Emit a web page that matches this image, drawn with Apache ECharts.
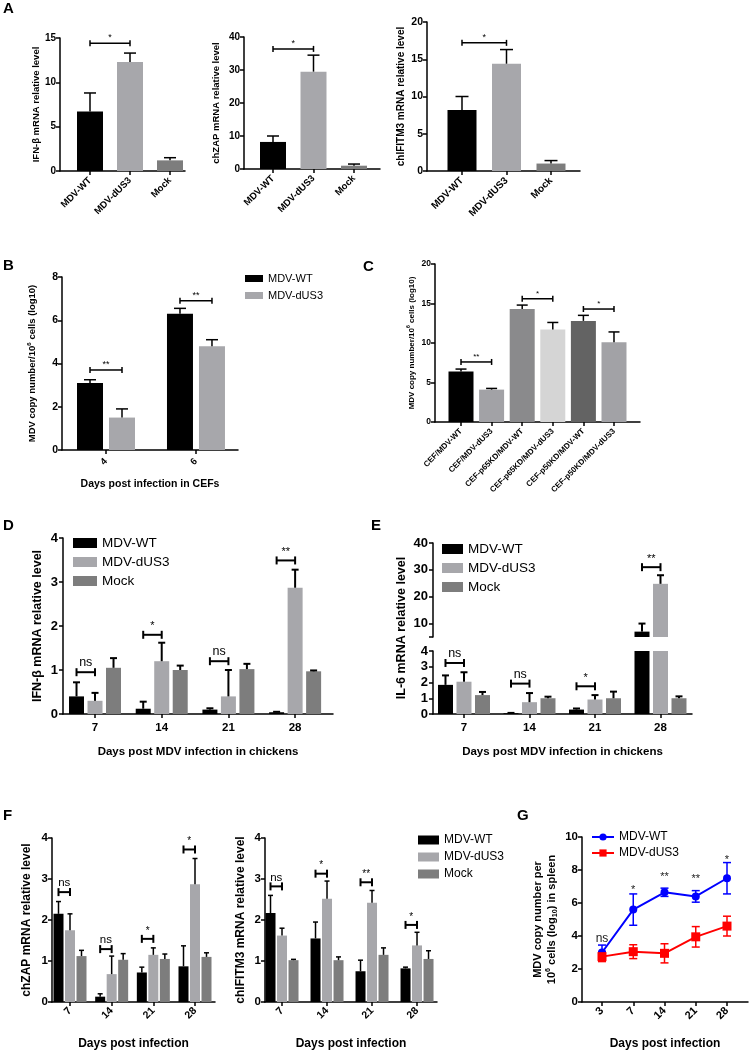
<!DOCTYPE html>
<html>
<head>
<meta charset="utf-8">
<script src="https://cdn.jsdelivr.net/npm/echarts@6/dist/echarts.min.js"></script>
<style>
html, body { margin: 0; padding: 0; background: #fff; }
#page { position: relative; width: 749px; height: 1051px; }
#page > div { position: absolute; left: 0; top: 0; width: 749px; height: 1051px; }
</style>
</head>
<body>
<div id="page"></div>
<script>
// ---------- data ----------
// A: single time point, three groups
const aCats = ['MDV-WT', 'MDV-dUS3', 'Mock'];
const aIfnMean = [6.7, 12.3, 1.2];
const aIfnErr = [2.1, 1.0, 0.3];
const aZapMean = [8.2, 29.5, 1.0];
const aZapErr = [1.8, 5.0, 0.5];
const aIfitmMean = [8.2, 14.4, 1.0];
const aIfitmErr = [1.8, 1.9, 0.4];
const aIfnSig = [[1, 2, 14.4, '*']];
const aZapSig = [[1, 2, 36.4, '*']];
const aIfitmSig = [[1, 2, 17.2, '*']];

// B: CEFs, days 4 and 6
const bDays = ['4', '6'];
const bWtMean = [3.1, 6.3];
const bWtErr = [0.15, 0.25];
const bDusMean = [1.5, 4.8];
const bDusErr = [0.4, 0.3];
const bSig = [[1, 3.7, '**'], [2, 6.9, '**']];

// C: knock-down cells
const cCats = ['CEF/MDV-WT', 'CEF/MDV-dUS3', 'CEF-p65KD/MDV-WT', 'CEF-p65KD/MDV-dUS3', 'CEF-p50KD/MDV-WT', 'CEF-p50KD/MDV-dUS3'];
const cMean = [6.4, 4.1, 14.3, 11.7, 12.8, 10.1];
const cErr = [0.3, 0.15, 0.5, 0.9, 0.7, 1.3];
const cSig = [[1, 2, 7.6, '**'], [3, 4, 15.6, '*'], [5, 6, 14.3, '*']];

// D: IFN-beta in chickens
const days = ['7', '14', '21', '28'];
const dWtMean = [0.4, 0.12, 0.1, 0.04];
const dWtErr = [0.32, 0.16, 0.03, 0.01];
const dDusMean = [0.3, 1.2, 0.4, 2.87];
const dDusErr = [0.18, 0.42, 0.6, 0.41];
const dMockMean = [1.05, 1.0, 1.02, 0.97];
const dMockErr = [0.22, 0.1, 0.12, 0.02];
const dSig = [[1, 0.95, 'ns'], [2, 1.8, '*'], [3, 1.2, 'ns'], [4, 3.49, '**']];

// E: IL-6 in chickens (broken axis)
const eWtMean = [1.85, 0.05, 0.28, 7.0];
const eWtErr = [0.6, 0.02, 0.07, 3.0];
const eDusMean = [2.05, 0.75, 0.92, 24.8];
const eDusErr = [0.6, 0.58, 0.28, 3.2];
const eMockMean = [1.2, 1.0, 1.0, 1.0];
const eMockErr = [0.2, 0.1, 0.42, 0.12];
const eSigLow = [[1, 3.24, 'ns'], [2, 1.93, 'ns'], [3, 1.76, '*']];
const eSigHigh = [[4, 31, '**']];

// F: chZAP and chIFITM3
const fZapWt = [2.15, 0.13, 0.72, 0.87];
const fZapWtErr = [0.3, 0.07, 0.13, 0.5];
const fZapDus = [1.75, 0.68, 1.15, 2.87];
const fZapDusErr = [0.4, 0.44, 0.17, 0.63];
const fZapMock = [1.12, 1.03, 1.05, 1.1];
const fZapMockErr = [0.14, 0.15, 0.12, 0.1];
const fZapSig = [[1, 2.68, 'ns'], [2, 1.29, 'ns'], [3, 1.54, '*'], [4, 3.72, '*']];
const fIfWt = [2.17, 1.55, 0.75, 0.82];
const fIfWtErr = [0.43, 0.4, 0.27, 0.03];
const fIfDus = [1.62, 2.52, 2.42, 1.38];
const fIfDusErr = [0.18, 0.43, 0.3, 0.32];
const fIfMock = [1.02, 1.02, 1.15, 1.05];
const fIfMockErr = [0.02, 0.08, 0.17, 0.2];
const fIfSig = [[1, 2.82, 'ns'], [2, 3.13, '*'], [3, 2.92, '**'], [4, 1.88, '*']];

// G: spleen copy number
const gDays = ['3', '7', '14', '21', '28'];
const gWt = [3.0, 5.6, 6.65, 6.4, 7.5];
const gWtErr = [0.45, 0.95, 0.25, 0.35, 0.95];
const gDus = [2.75, 3.05, 2.95, 3.95, 4.6];
const gDusErr = [0.3, 0.42, 0.58, 0.62, 0.6];
const gSigText = ['ns', '*', '**', '**', '*'];
const gSigY = [3.5, 6.45, 7.25, 7.15, 8.3];

// ---------- helpers ----------
const FONT = '"Liberation Sans", Arial, Helvetica, sans-serif';
const LW = 1.5;
const WT = '#000000', DUS = '#a7a7ab', MOCK = '#7d7d7d';
const page = document.getElementById('page');

function render(opt) {
  const d = document.createElement('div');
  page.appendChild(d);
  const c = echarts.init(d, null, { renderer: 'canvas' });
  c.setOption(Object.assign({ animation: false }, opt));
}

function letter(t, x, y) {
  return { type: 'text', left: x, top: y, style: { text: t, fill: '#000', font: 'bold 15px ' + FONT } };
}

function idx(arr) { return arr.map((v, i) => i + 1); }

function xAx(gi, cats, min, max, o) {
  const vals = idx(cats);
  return {
    type: 'value', gridIndex: gi, min: min, max: max, show: o.show !== false,
    axisLine: { show: true, onZero: false, lineStyle: { color: '#000', width: LW } },
    axisTick: { show: true, length: 4, customValues: vals, lineStyle: { color: '#000', width: LW } },
    axisLabel: {
      customValues: vals, formatter: v => cats[Math.round(v) - 1], rotate: o.rotate || 0,
      margin: o.margin || 6, color: '#000', fontSize: o.fs, fontWeight: 'bold', fontFamily: FONT
    },
    splitLine: { show: false },
    name: o.name || '', nameLocation: 'middle', nameGap: o.nameGap || 0,
    nameTextStyle: { color: '#000', fontSize: o.nameFs || 11, fontWeight: 'bold', fontFamily: FONT }
  };
}

function yAx(gi, min, max, interval, o) {
  const tick = { show: true, length: 4, lineStyle: { color: '#000', width: LW } };
  const lab = { margin: o.margin || 4, color: '#000', fontSize: o.fs, fontWeight: 'bold', fontFamily: FONT };
  if (o.ticks) tick.customValues = o.ticks;
  if (o.labels) lab.customValues = o.labels;
  const ax = {
    type: 'value', gridIndex: gi, min: min, max: max,
    axisLine: { show: true, onZero: false, lineStyle: { color: '#000', width: LW } },
    axisTick: tick, axisLabel: lab, splitLine: { show: false },
    name: o.name || '', nameLocation: 'middle', nameGap: o.nameGap || 0, nameRotate: 90,
    nameTextStyle: {
      color: '#000', fontSize: o.nameFs || 11, fontWeight: 'bold', fontFamily: FONT,
      lineHeight: o.nameLh, rich: o.rich
    }
  };
  if (interval) ax.interval = interval;
  return ax;
}

function supRich(fs) {
  return {
    n: { fontSize: fs, fontWeight: 'bold', fontFamily: FONT, color: '#000', lineHeight: fs + 3 },
    s: { fontSize: fs * 0.65, fontWeight: 'bold', fontFamily: FONT, color: '#000', verticalAlign: 'top', lineHeight: fs + 3 },
    b: { fontSize: fs * 0.65, fontWeight: 'bold', fontFamily: FONT, color: '#000', verticalAlign: 'bottom', lineHeight: fs + 3 }
  };
}

// pixel offset of each bar inside a group
function offs(n, bw, gap) {
  return Array.from({ length: n }, (_, i) => (i - (n - 1) / 2) * (bw + gap));
}

function bars(name, gi, means, color, bw, gapPx) {
  return {
    type: 'bar', name: name, xAxisIndex: gi, yAxisIndex: gi, silent: true,
    data: means.map((v, i) => [i + 1, v]),
    barWidth: bw, barGap: (gapPx / bw * 100) + '%', itemStyle: { color: color }
  };
}

function colorBars(gi, means, colors, bw) {
  return {
    type: 'bar', xAxisIndex: gi, yAxisIndex: gi, silent: true, barWidth: bw,
    data: means.map((v, i) => ({ value: [i + 1, v], itemStyle: { color: colors[i] } }))
  };
}

function errs(gi, means, err, off, cap, lw, o) {
  o = o || {};
  const col = o.color || '#000';
  return {
    type: 'custom', xAxisIndex: gi, yAxisIndex: gi, silent: true, z: 3,
    data: means.map((m, i) => [i + 1, m, err[i]]),
    renderItem(params, api) {
      const x = api.value(0), m = api.value(1), e = api.value(2);
      if (o.range && (m < o.range[0] || m > o.range[1])) return null;
      const pm = api.coord([x, m]), pt = api.coord([x, m + e]), pb = api.coord([x, m - e]);
      const cx = pm[0] + off;
      const st = { stroke: col, lineWidth: lw };
      const kids = [
        { type: 'line', shape: { x1: cx, y1: o.both ? pb[1] : pm[1], x2: cx, y2: pt[1] }, style: st },
        { type: 'line', shape: { x1: cx - cap / 2, y1: pt[1], x2: cx + cap / 2, y2: pt[1] }, style: st }
      ];
      if (o.both) kids.push({ type: 'line', shape: { x1: cx - cap / 2, y1: pb[1], x2: cx + cap / 2, y2: pb[1] }, style: st });
      return { type: 'group', children: kids };
    }
  };
}

// items: [x1, x2, y, label]
function sig(gi, items, offA, offB, o) {
  return {
    type: 'custom', xAxisIndex: gi, yAxisIndex: gi, silent: true, z: 4,
    data: items.map(it => [it[0], it[2]]),
    renderItem(params, api) {
      const it = items[params.dataIndex];
      const pa = api.coord([it[0], it[2]]), pb = api.coord([it[1], it[2]]);
      const xa = pa[0] + offA, xb = pb[0] + offB, y = pa[1], h = o.h;
      const st = { stroke: '#000', lineWidth: o.lw || LW };
      return {
        type: 'group', children: [
          { type: 'line', shape: { x1: xa, y1: y, x2: xb, y2: y }, style: st },
          { type: 'line', shape: { x1: xa, y1: y - h, x2: xa, y2: y + h }, style: st },
          { type: 'line', shape: { x1: xb, y1: y - h, x2: xb, y2: y + h }, style: st },
          {
            type: 'text', x: (xa + xb) / 2, y: y - (o.pad || 1),
            style: {
              text: it[3], fill: '#000', fontFamily: FONT,
              fontSize: it[3] === 'ns' ? o.nsFs : o.fs, align: 'center', verticalAlign: 'bottom'
            }
          }
        ]
      };
    }
  };
}

// [group, y, label] -> [group, group, y, label]
function grp(items) { return items.map(it => [it[0], it[0], it[1], it[2]]); }

function legend(names, left, top, o) {
  const lg = {
    data: names, orient: 'vertical', left: left, top: top, selectedMode: false,
    itemWidth: o.w, itemHeight: o.h, itemGap: o.gap, padding: 0,
    textStyle: { color: '#000', fontSize: o.fs, fontFamily: FONT }
  };
  if (o.icon) lg.icon = o.icon;
  return lg;
}

const aCols = [WT, DUS, MOCK];

// ---------- A ----------
render({
  graphic: [letter('A', 3, 1)],
  grid: [{ left: 60, top: 38, width: 125, height: 133 }],
  xAxis: [xAx(0, aCats, 0.25, 3.375, { fs: 9.5, rotate: 45, margin: 8 })],
  yAxis: [yAx(0, 0, 15, 5, { fs: 10, name: 'IFN-β mRNA relative level', nameFs: 9.5, nameGap: 17 })],
  series: [
    colorBars(0, aIfnMean, aCols, 26),
    errs(0, aIfnMean, aIfnErr, 0, 12, LW),
    sig(0, aIfnSig, 0, 0, { h: 3, fs: 9, nsFs: 9 })
  ]
});
render({
  grid: [{ left: 244, top: 37, width: 136, height: 132 }],
  xAxis: [xAx(0, aCats, 0.284, 3.642, { fs: 9.5, rotate: 45, margin: 8 })],
  yAxis: [yAx(0, 0, 40, 10, { fs: 10, name: 'chZAP mRNA relative level', nameFs: 9.5, nameGap: 23 })],
  series: [
    colorBars(0, aZapMean, aCols, 26),
    errs(0, aZapMean, aZapErr, 0, 12, LW),
    sig(0, aZapSig, 0, 0, { h: 3, fs: 9, nsFs: 9 })
  ]
});
render({
  grid: [{ left: 427, top: 22, width: 153, height: 149 }],
  xAxis: [xAx(0, aCats, 0.2135, 3.6517, { fs: 10, rotate: 45, margin: 8 })],
  yAxis: [yAx(0, 0, 20, 5, { fs: 10.5, name: 'chIFITM3 mRNA relative level', nameFs: 10, nameGap: 21 })],
  series: [
    colorBars(0, aIfitmMean, aCols, 29),
    errs(0, aIfitmMean, aIfitmErr, 0, 13, LW),
    sig(0, aIfitmSig, 0, 0, { h: 3, fs: 9, nsFs: 9 })
  ]
});

// ---------- B ----------
const bOff = offs(2, 26, 6);
render({
  graphic: [letter('B', 3, 258)],
  legend: legend(['MDV-WT', 'MDV-dUS3'], 245, 273, { w: 18, h: 7, gap: 6, fs: 11, icon: 'rect' }),
  grid: [{ left: 62, top: 277, width: 176, height: 173 }],
  xAxis: [xAx(0, bDays, 0.511, 2.467, { fs: 9.5, rotate: 45, margin: 10, name: 'Days post infection in CEFs', nameFs: 10.5, nameGap: 29 })],
  yAxis: [yAx(0, 0, 8, 2, {
    fs: 10.5, nameGap: 23, nameFs: 9.5, rich: supRich(9.5),
    name: '{n|MDV copy number/10}{s|6}{n| cells (log10)}'
  })],
  series: [
    bars('MDV-WT', 0, bWtMean, WT, 26, 6),
    bars('MDV-dUS3', 0, bDusMean, DUS, 26, 6),
    errs(0, bWtMean, bWtErr, bOff[0], 12, LW),
    errs(0, bDusMean, bDusErr, bOff[1], 12, LW),
    sig(0, grp(bSig), bOff[0], bOff[1], { h: 3, fs: 9, nsFs: 9 })
  ]
});

// ---------- C ----------
render({
  graphic: [letter('C', 363, 259)],
  grid: [{ left: 435, top: 264, width: 205, height: 158 }],
  xAxis: [xAx(0, cCats, 0.15, 6.85, { fs: 8, rotate: 45, margin: 8 })],
  yAxis: [yAx(0, 0, 20, 5, {
    fs: 8.5, nameGap: 18, nameFs: 8, rich: supRich(8),
    name: '{n|MDV copy number/10}{s|6}{n| cells (log10)}'
  })],
  series: [
    colorBars(0, cMean, ['#000000', '#a2a2a6', '#8a8a8c', '#d5d5d5', '#636363', '#a2a2a6'], 25),
    errs(0, cMean, cErr, 0, 11, LW),
    sig(0, cSig, 0, 0, { h: 3, fs: 8, nsFs: 8 })
  ]
});

// ---------- D ----------
const gOffL = offs(3, 15, 3.5);
render({
  graphic: [letter('D', 3, 518)],
  legend: legend(['MDV-WT', 'MDV-dUS3', 'Mock'], 73, 536, { w: 24, h: 10, gap: 5, fs: 13.5, icon: 'rect' }),
  grid: [{ left: 63, top: 538, width: 270, height: 176 }],
  xAxis: [xAx(0, days, 0.52, 4.568, { fs: 11.5, margin: 8, name: 'Days post MDV infection in chickens', nameFs: 11.5, nameGap: 32 })],
  yAxis: [yAx(0, 0, 4, 1, { fs: 13, margin: 5, name: 'IFN-β mRNA relative level', nameFs: 12.5, nameGap: 19 })],
  series: [
    bars('MDV-WT', 0, dWtMean, WT, 15, 3.5),
    bars('MDV-dUS3', 0, dDusMean, DUS, 15, 3.5),
    bars('Mock', 0, dMockMean, MOCK, 15, 3.5),
    errs(0, dWtMean, dWtErr, gOffL[0], 7, 2),
    errs(0, dDusMean, dDusErr, gOffL[1], 7, 2),
    errs(0, dMockMean, dMockErr, gOffL[2], 7, 2),
    sig(0, grp(dSig), gOffL[0], gOffL[1], { h: 4, fs: 11, nsFs: 12.5, lw: 2, pad: 3 })
  ]
});

// ---------- E (broken y axis: 5-40 on top, 0-4 below) ----------
render({
  graphic: [
    letter('E', 371, 518),
    {
      type: 'text', x: 402, y: 628, rotation: Math.PI / 2,
      style: { text: 'IL-6 mRNA relative level', font: 'bold 12.5px ' + FONT, fill: '#000', align: 'center', verticalAlign: 'middle' }
    }
  ],
  legend: legend(['MDV-WT', 'MDV-dUS3', 'Mock'], 442, 542, { w: 21, h: 10, gap: 5, fs: 13.5, icon: 'rect' }),
  grid: [
    { left: 433, top: 543, width: 259, height: 94 },
    { left: 433, top: 651, width: 259, height: 63 }
  ],
  xAxis: [
    xAx(0, days, 0.527, 4.481, { fs: 11.5, show: false }),
    xAx(1, days, 0.527, 4.481, { fs: 11.5, margin: 8, name: 'Days post MDV infection in chickens', nameFs: 11.5, nameGap: 32 })
  ],
  yAxis: [
    yAx(0, 5, 40, null, { fs: 13, margin: 5, ticks: [5, 10, 20, 30, 40], labels: [10, 20, 30, 40] }),
    yAx(1, 0, 4, 1, { fs: 13, margin: 5 })
  ],
  series: [
    bars('MDV-WT', 0, eWtMean, WT, 15, 3.5),
    bars('MDV-dUS3', 0, eDusMean, DUS, 15, 3.5),
    bars('Mock', 0, eMockMean, MOCK, 15, 3.5),
    bars('MDV-WT', 1, eWtMean, WT, 15, 3.5),
    bars('MDV-dUS3', 1, eDusMean, DUS, 15, 3.5),
    bars('Mock', 1, eMockMean, MOCK, 15, 3.5),
    errs(0, eWtMean, eWtErr, gOffL[0], 7, 2, { range: [4, 40] }),
    errs(0, eDusMean, eDusErr, gOffL[1], 7, 2, { range: [4, 40] }),
    errs(0, eMockMean, eMockErr, gOffL[2], 7, 2, { range: [4, 40] }),
    errs(1, eWtMean, eWtErr, gOffL[0], 7, 2, { range: [0, 4] }),
    errs(1, eDusMean, eDusErr, gOffL[1], 7, 2, { range: [0, 4] }),
    errs(1, eMockMean, eMockErr, gOffL[2], 7, 2, { range: [0, 4] }),
    sig(0, grp(eSigHigh), gOffL[0], gOffL[1], { h: 4, fs: 11, nsFs: 12.5, lw: 2, pad: 3 }),
    sig(1, grp(eSigLow), gOffL[0], gOffL[1], { h: 4, fs: 11, nsFs: 12.5, lw: 2, pad: 3 })
  ]
});

// ---------- F ----------
const fOff = offs(3, 10, 1.5);
render({
  graphic: [letter('F', 3, 808)],
  legend: legend(['MDV-WT', 'MDV-dUS3', 'Mock'], 418, 834, { w: 21, h: 9, gap: 5, fs: 12, icon: 'rect' }),
  grid: [
    { left: 52, top: 838, width: 163, height: 164 },
    { left: 265, top: 838, width: 172, height: 164 }
  ],
  xAxis: [
    xAx(0, days, 0.568, 4.48, { fs: 10.5, rotate: 45, margin: 7, name: 'Days post infection', nameFs: 12, nameGap: 36 }),
    xAx(1, days, 0.622, 4.444, { fs: 10.5, rotate: 45, margin: 7, name: 'Days post infection', nameFs: 12, nameGap: 36 })
  ],
  yAxis: [
    yAx(0, 0, 4, 1, { fs: 11.5, name: 'chZAP mRNA relative level', nameFs: 12, nameGap: 19 }),
    yAx(1, 0, 4, 1, { fs: 11.5, name: 'chIFITM3 mRNA relative level', nameFs: 12, nameGap: 18 })
  ],
  series: [
    bars('MDV-WT', 0, fZapWt, WT, 10, 1.5),
    bars('MDV-dUS3', 0, fZapDus, DUS, 10, 1.5),
    bars('Mock', 0, fZapMock, MOCK, 10, 1.5),
    bars('MDV-WT', 1, fIfWt, WT, 10, 1.5),
    bars('MDV-dUS3', 1, fIfDus, DUS, 10, 1.5),
    bars('Mock', 1, fIfMock, MOCK, 10, 1.5),
    errs(0, fZapWt, fZapWtErr, fOff[0], 5, LW),
    errs(0, fZapDus, fZapDusErr, fOff[1], 5, LW),
    errs(0, fZapMock, fZapMockErr, fOff[2], 5, LW),
    errs(1, fIfWt, fIfWtErr, fOff[0], 5, LW),
    errs(1, fIfDus, fIfDusErr, fOff[1], 5, LW),
    errs(1, fIfMock, fIfMockErr, fOff[2], 5, LW),
    sig(0, grp(fZapSig), fOff[0], fOff[1], { h: 4, fs: 10, nsFs: 11.5, lw: 2, pad: 3 }),
    sig(1, grp(fIfSig), fOff[0], fOff[1], { h: 4, fs: 10, nsFs: 11.5, lw: 2, pad: 3 })
  ]
});

// ---------- G ----------
render({
  graphic: [letter('G', 517, 808)],
  legend: legend(['MDV-WT', 'MDV-dUS3'], 591, 831, { w: 22, h: 9, gap: 4, fs: 12 }),
  grid: [{ left: 582, top: 837, width: 166, height: 165 }],
  xAxis: [xAx(0, gDays, 0.36, 5.672, { fs: 11, rotate: 45, margin: 7, name: 'Days post infection', nameFs: 12, nameGap: 36 })],
  yAxis: [yAx(0, 0, 10, 2, {
    fs: 11.5, nameGap: 23, nameFs: 11, rich: supRich(11),
    name: '{n|MDV copy number per}\n{n|10}{s|6}{n| cells (log}{b|10}{n|) in spleen}'
  })],
  series: [
    {
      type: 'line', name: 'MDV-WT', data: gWt.map((v, i) => [i + 1, v]), silent: true,
      symbol: 'circle', symbolSize: 8, itemStyle: { color: '#0000ff' }, lineStyle: { color: '#0000ff', width: 2 }
    },
    {
      type: 'line', name: 'MDV-dUS3', data: gDus.map((v, i) => [i + 1, v]), silent: true,
      symbol: 'rect', symbolSize: 9, itemStyle: { color: '#ff0000' }, lineStyle: { color: '#ff0000', width: 2 }
    },
    errs(0, gWt, gWtErr, 0, 8, LW, { both: true, color: '#0000ff' }),
    errs(0, gDus, gDusErr, 0, 8, LW, { both: true, color: '#ff0000' }),
    {
      type: 'custom', silent: true, z: 4,
      data: gSigY.map((v, i) => [i + 1, v]),
      renderItem(params, api) {
        const p = api.coord([api.value(0), api.value(1)]);
        const t = gSigText[params.dataIndex];
        return {
          type: 'text', x: p[0], y: p[1],
          style: { text: t, fill: '#222', fontFamily: FONT, fontSize: t === 'ns' ? 12 : 11, align: 'center', verticalAlign: 'bottom' }
        };
      }
    }
  ]
});
</script>
</body>
</html>
